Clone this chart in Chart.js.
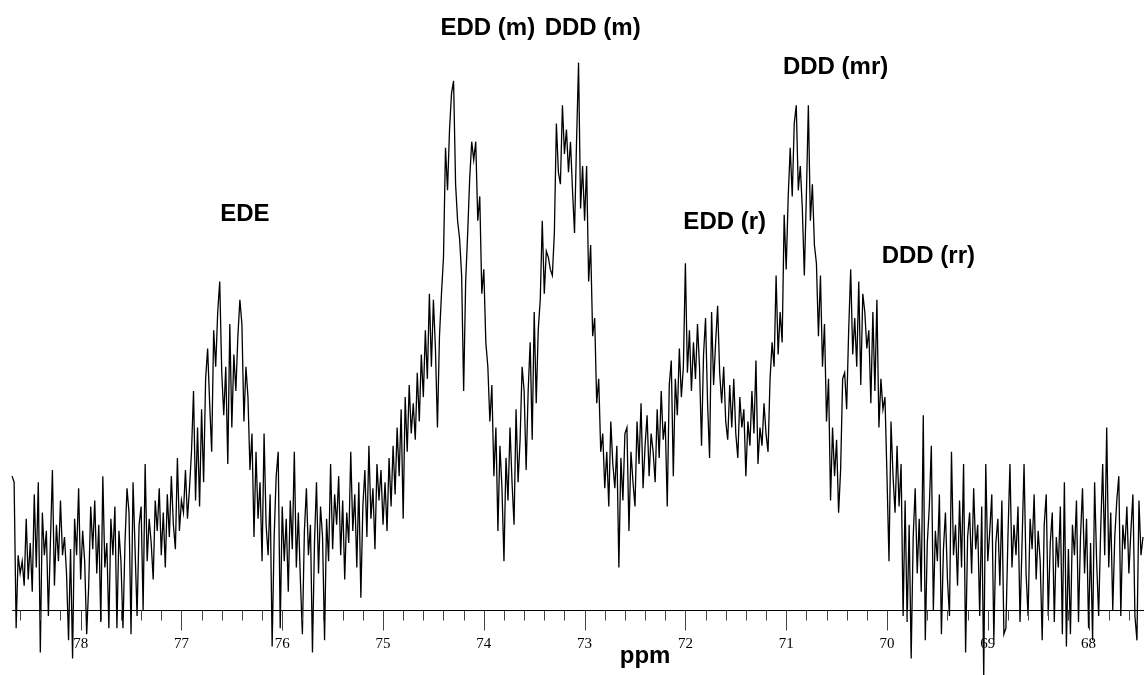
<!DOCTYPE html>
<html>
<head>
<meta charset="utf-8">
<title>13C NMR spectrum</title>
<script src="https://cdn.jsdelivr.net/npm/chart.js@4.4.1/dist/chart.umd.min.js"></script>
<style>
  html, body { margin: 0; padding: 0; background: #fff; }
  canvas { display: block; }
</style>
</head>
<body>
<canvas id="spectrum" width="1144" height="675"></canvas>
<script>
// chemical shift grid of the spectrum (ppm, decreasing)
const ppmStart = 78.68
const ppmStep = 0.02

// intensity per point, arbitrary units
const intensity = [
  22, 21, -3, 9, 6, 8, 4, 15, 5, 11,
  3, 19, 7, 21, -7, 16, 9, 13, -1, 11,
  23, 4, 14, 8, 18, 9, 12, 6, -5, 10,
  -8, 15, 9, 20, 5, 13, 8, -4, 4, 17,
  10, 18, 6, 14, -2, 22, 7, 11, -3, 15,
  9, 17, -3, 13, 8, -3, 11, 20, 16, -4,
  21, 10, -1, 14, 17, 0, 24, 8, 15, 11,
  5, 18, 13, 20, 9, 16, 7, 19, 12, 22,
  14, 10, 25, 13, 18, 16, 23, 15, 20,
  // EDE
  26, 36, 18, 30, 17, 33, 21, 38, 43, 34,
  26, 46, 40, 49, 54, 39, 32, 40, 24, 47,
  30, 42, 36, 45, 51, 47, 31, 40, 35, 23,
  29, 12, 26, 15, 21, 8, 29,
  14, 9, 19, -6, 12, 22, 26, -3, 17, 8,
  15, 3, 18, 10, 26, 7, 16, 5, -4, 13,
  20, 9, 14, -7, 11, 21, 6, 17, 12, -5,
  15, 8, 24, 10, 19,
  14, 22, 9, 18, 5, 16, 11, 26, 13, 19,
  7, 21, 2, 17, 23, 12, 27, 15, 20, 10,
  24, 18, 23, 14, 21, 13, 25, 17, 27, 19,
  30, 22, 33, 15, 35, 26, 37, 29, 34, 28,
  39, 31, 42, 35, 46, 38, 52, 40, 51, 43,
  // EDD (m)
  30, 45, 52, 58, 76, 69, 79, 85, 87, 70,
  64, 61, 55, 36, 54, 62, 71, 77, 74, 77,
  64, 68, 52, 56, 44,
  40, 31, 37, 22, 30, 13, 27, 20, 8, 25,
  18, 30, 21, 14, 33, 21, 28, 40, 36, 23,
  36, 44, 28, 49, 34, 46, 51, 64, 52, 59,
  58, 56, 55, 62, 80, 72, 70, 83, 75, 79,
  72, 77, 69, 62, 77,
  // DDD (m)
  90, 66, 73, 64, 73, 54, 60, 45, 48, 34,
  38, 26, 29, 20, 26,
  17, 31, 24, 20, 27, 7, 25, 18, 29, 30,
  13, 26, 21, 17, 31, 24, 34, 20, 27, 32,
  22, 29, 26, 21, 33, 25, 36, 28, 31, 17,
  // EDD (r)
  37, 41, 22, 38, 32, 43, 35, 40, 57, 39,
  46, 36, 44, 38, 47, 40, 27, 42, 48, 34,
  25, 49, 37, 44, 50, 39, 34, 40, 31, 28,
  37, 30, 38, 29, 25, 35, 30, 33, 22, 31,
  27, 36, 29, 41, 24, 30, 27, 34, 29, 26,
  // DDD (mr)
  38, 44, 40, 55, 42, 49, 44, 65, 56, 68,
  76, 68, 80, 83, 69, 73, 66, 55, 68, 83,
  64, 70, 60, 57, 45, 55, 40, 47, 31, 38,
  18, 30, 22, 28, 16,
  // DDD (rr)
  23, 38, 39, 33, 46, 56, 42, 48, 40, 54,
  37, 52, 49, 43, 46, 34, 49, 36, 51, 30,
  38, 33, 35, 22, 8, 31, 22, 16, 27, 17,
  24, -1, 18, -2, 14, -8, 12, 20, 6, 15,
  3, 32, -5, 11, 17, 27, 0, 13, 8, 19,
  -4, 10, 16, 5, -1, 26, 9, 14, 4, 18,
  7, 24, -7, 12, 16, 6, 20, 10, 14, -1,
  17, -11, 24, 8, 13, 19, -5, 11, 15, 4,
  18, -4, -3, 12, 24, 7, 14, 9, 17, -2,
  11, 24, 6, -1, 15, 10, 19, 5, 13, 8,
  -5, 14, 19, -1, 11, 16, -2, 12, 7, 17,
  -4, 21, -6, 10, -4, 14, 9, 18, -2, 12,
  20, 6, 15, -3, 11, -5, 21, 8, -1, 13,
  24, 9, 30, 7, 16, 0, 12, 18, 22, -1,
  14, 10, 17, 6, 13, 19, -1, -5, 18, 9,
  12
]

const tickLabels = [78, 77, 76, 75, 74, 73, 72, 71, 70, 69, 68]

// peak assignments: text, ppm, height
const peakNames = ['EDE', 'EDD (m)', 'DDD (m)', 'EDD (r)', 'DDD (mr)', 'DDD (rr)']
const peakPpm = [76.37, 73.96, 72.92, 71.61, 70.51, 69.59]
const peakHeight = [65, 95.7, 95.7, 63.7, 89.3, 58.2]

const points = intensity.map((v, i) => ({ x: +(ppmStart - i * ppmStep).toFixed(2), y: v }))

const axisPlugin = {
  id: 'ppmAxis',
  afterDatasetsDraw(chart) {
    const ctx = chart.ctx
    const xs = chart.scales.x
    const ys = chart.scales.y
    const y0 = Math.round(ys.getPixelForValue(0)) + 0.5

    ctx.save()
    // baseline
    ctx.strokeStyle = '#000'
    ctx.lineWidth = 1
    ctx.beginPath()
    ctx.moveTo(xs.getPixelForValue(ppmStart), y0)
    ctx.lineTo(chart.width, y0)
    ctx.stroke()

    // minor ticks every 0.2 ppm, major on whole ppm
    ctx.strokeStyle = '#444'
    for (let k = 786; k >= 676; k -= 2) {
      const px = Math.round(xs.getPixelForValue(k / 10)) + 0.5
      const len = k % 10 === 0 ? 20 : 10
      ctx.beginPath()
      ctx.moveTo(px, y0)
      ctx.lineTo(px, y0 + len)
      ctx.stroke()
    }

    ctx.fillStyle = '#000'
    ctx.font = '15px "Liberation Serif", "Times New Roman", serif'
    ctx.textAlign = 'center'
    ctx.textBaseline = 'middle'
    tickLabels.forEach(t => {
      ctx.fillText(String(t), xs.getPixelForValue(t), y0 + 34)
    })

    ctx.font = 'bold 24px "Liberation Sans", Arial, sans-serif'
    ctx.fillText('ppm', xs.getPixelForValue(72.4), y0 + 46)

    peakNames.forEach((name, i) => {
      ctx.fillText(name, xs.getPixelForValue(peakPpm[i]), ys.getPixelForValue(peakHeight[i]))
    })
    ctx.restore()
  }
}

new Chart(document.getElementById('spectrum'), {
  type: 'line',
  data: {
    datasets: [{
      data: points,
      borderColor: '#000',
      borderWidth: 1.3,
      pointRadius: 0,
      tension: 0,
      fill: false
    }]
  },
  options: {
    responsive: false,
    animation: false,
    devicePixelRatio: 1,
    layout: { padding: 0 },
    plugins: {
      legend: { display: false },
      tooltip: { enabled: false }
    },
    scales: {
      x: { type: 'linear', min: 67.45, max: 78.80, reverse: true, display: false },
      y: { min: -10.7, max: 100.3, display: false }
    }
  },
  plugins: [axisPlugin]
})
</script>
</body>
</html>
